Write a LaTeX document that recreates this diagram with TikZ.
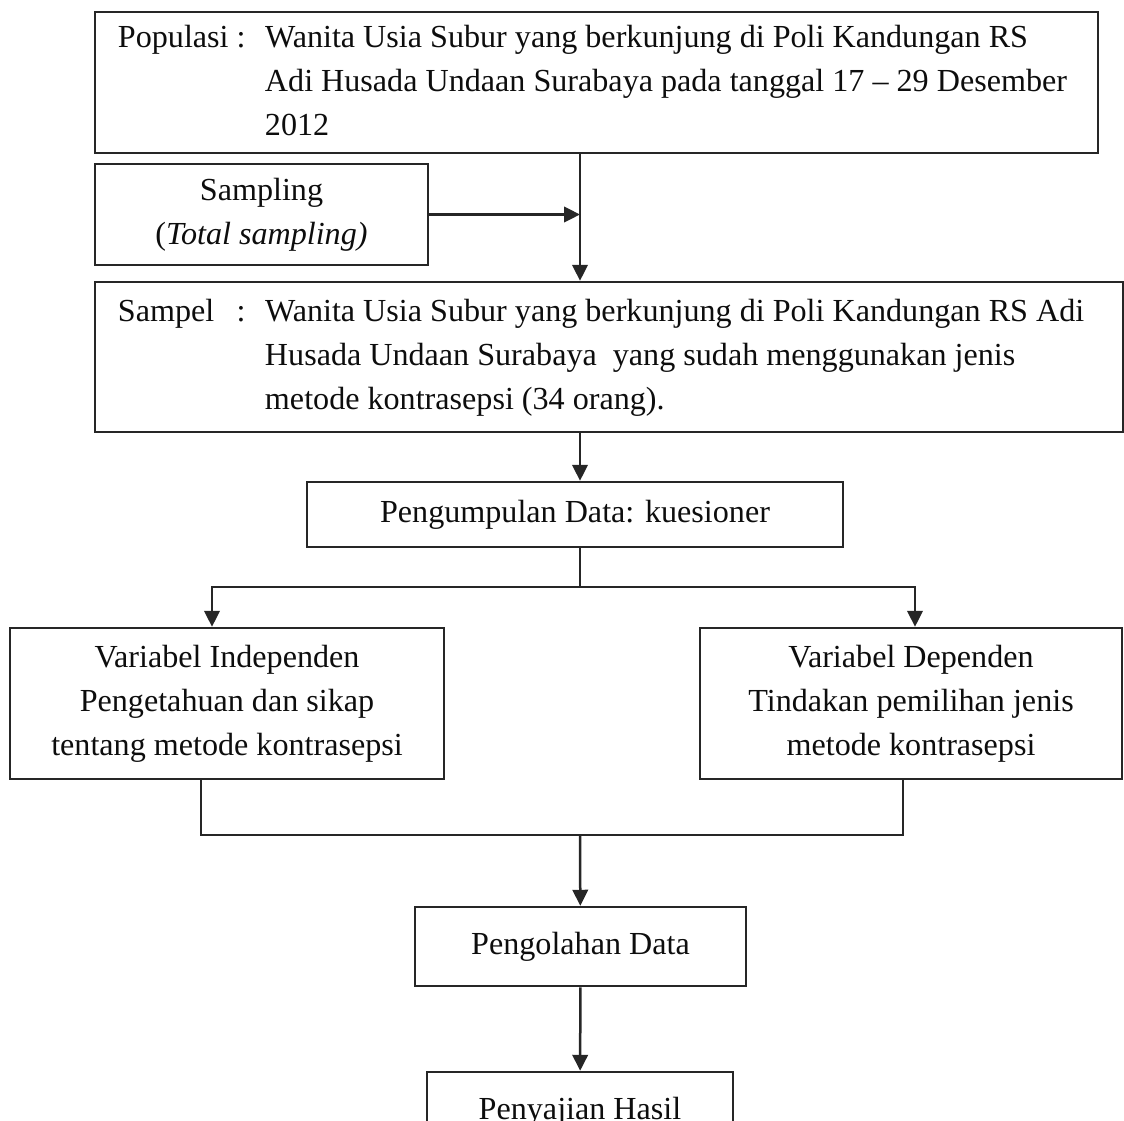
\documentclass[tikz,border=0pt]{standalone}
\usepackage{fontspec}
\setmainfont{Liberation Serif}
\usepackage{tikz}
\usetikzlibrary{arrows.meta}
\newcommand{\wide}[2]{\makebox[#1][l]{\begin{tabular}{@{}p{58.8pt}@{}l@{}}#2\end{tabular}}}

\begin{document}
\begin{tikzpicture}[x=0.4pt,y=-0.4pt,line width=1pt,color=black!85,
    >={Triangle[length=6.4pt,width=6.2pt]},
    box/.style={draw,inner sep=0pt,align=center,text=black!95,
      font=\fontsize{12.85}{17.6}\selectfont}]
      \useasboundingbox (0,0) rectangle (1124,1120);
      \node [box,inner xsep=9.2pt,minimum height=56.4pt] (1) at (596.5,82.5)
        {\wide{382.8pt}{Populasi : & Wanita Usia Subur yang berkunjung di Poli Kandungan RS\\
          & Adi Husada Undaan Surabaya pada tanggal 17 -- 29 Desember\\ & 2012}};
      \node [box,minimum width=133.2pt,minimum height=40.4pt] (2) at (261.5,214.5)
        {Sampling\\(\textit{Total sampling)}};
      \node [box,inner xsep=9.2pt,minimum height=60pt] (3) at (609,357)
        {\wide{392.8pt}{Sampel\hspace{5.7pt} : & Wanita Usia Subur yang berkunjung di Poli Kandungan RS Adi\\
          & Husada Undaan Surabaya\ \ yang sudah menggunakan jenis\\
          & metode kontrasepsi (34 orang).}};
      \node [box,minimum width=214.4pt,minimum height=26pt] (4) at (575,514.5)
        {Pengumpulan Data: kuesioner};
      \node [box,minimum width=173.6pt,minimum height=60.4pt] (5) at (227,703.5)
        {Variabel Independen\\Pengetahuan dan sikap\\tentang metode kontrasepsi};
      \node [box,minimum width=168.8pt,minimum height=60.4pt] (6) at (911,703.5)
        {Variabel Dependen\\Tindakan pemilihan jenis\\metode kontrasepsi};
      \node [box,minimum width=132.4pt,minimum height=31.6pt] (7) at (580.5,946.5)
        {Pengolahan Data};
      \node [box,minimum width=122.4pt,minimum height=32pt] (8) at (580,1112)
        {Penyajian Hasil};

      \coordinate (m) at (580,0);
      \coordinate (s) at (580,587);
      \coordinate (j) at (580,835);

      \draw[->] (1.south -| m) -- (3.north -| m);
      \draw[->] (2) -- (2 -| m);
      \draw[->] (3.south -| m) -- (4.north -| m);
      \draw (4.south -| m) -- (s);
      \draw[->] (s) -| ([xshift=-6pt]5.north);
      \draw[->] (s) -| ([xshift=1.6pt]6.north);
      \draw ([xshift=-10.4pt]5.south) |- (j);
      \draw ([xshift=-3.2pt]6.south) |- (j);
      \draw[->] (j) -- (7);
      \draw[->] (7) -- (8);
    \end{tikzpicture}
\end{document}
